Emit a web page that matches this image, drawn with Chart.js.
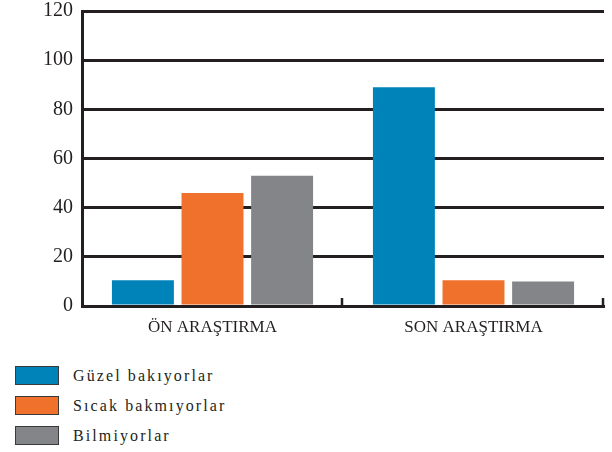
<!DOCTYPE html>
<html>
<head>
<meta charset="utf-8">
<script src="https://cdn.jsdelivr.net/npm/chart.js@4"></script>
<style>
  body { margin: 0; background: #fff; }
  #wrap { position: absolute; left: 0; top: 0; width: 612px; height: 347px; }
  #legend { position: absolute; left: 15px; top: 366px; font-family: "Liberation Serif", serif; font-size: 16px; color: #231f20; letter-spacing: 2.1px; }
  .item { height: 30px; display: flex; align-items: flex-start; }
  .box { width: 42px; height: 17px; border: 1px solid #3a3a3a; margin-right: 14px; }
  .item span { line-height: 19px; }
</style>
</head>
<body>
<div id="wrap"><canvas id="myChart"></canvas></div>
<div id="legend"></div>
<script>
const categories = ["ÖN ARAŞTIRMA", "SON ARAŞTIRMA"];
const seriesNames = ["Güzel bakıyorlar", "Sıcak bakmıyorlar", "Bilmiyorlar"];
const guzel = [10.5, 89];
const sicak = [46, 10.5];
const bilmiyor = [53, 10];
const colors = ["#0083b9", "#f0712c", "#848589"];
const yTicks = [0, 20, 40, 60, 80, 100, 120];

const ink = "#231f20";

// small upward tick marks at category boundaries on the x axis
const boundaryTicks = {
  id: "boundaryTicks",
  afterDraw(chart) {
    const ctx = chart.ctx;
    const area = chart.chartArea;
    const n = categories.length;
    const step = (area.right - area.left) / n;
    ctx.save();
    ctx.strokeStyle = ink;
    ctx.lineWidth = 2.5;
    for (let i = 1; i <= n; i++) {
      const x = area.left + i * step - 1;
      ctx.beginPath();
      ctx.moveTo(x, area.bottom);
      ctx.lineTo(x, area.bottom - 8);
      ctx.stroke();
    }
    ctx.restore();
  }
};

const chart = new Chart(document.getElementById("myChart"), {
  type: "bar",
  data: {
    labels: categories,
    datasets: [
      { label: seriesNames[0], data: guzel, backgroundColor: colors[0] },
      { label: seriesNames[1], data: sicak, backgroundColor: colors[1] },
      { label: seriesNames[2], data: bilmiyor, backgroundColor: colors[2] }
    ]
  },
  options: {
    responsive: true,
    maintainAspectRatio: false,
    animation: false,
    categoryPercentage: 0.8,
    barPercentage: 0.89,
    layout: { padding: { top: 11, right: 8, left: 0, bottom: 0 } },
    plugins: { legend: { display: false }, tooltip: { enabled: false } },
    scales: {
      x: {
        grid: { display: false },
        border: { display: true, color: ink, width: 3 },
        ticks: { color: ink, padding: 3, font: { family: "Liberation Serif", size: 17 } },
        afterFit(scale) { scale.height = 41; }
      },
      y: {
        min: 0,
        max: 120,
        afterBuildTicks(scale) { scale.ticks = yTicks.map(v => ({ value: v })); },
        grid: { color: ink, lineWidth: 3, drawTicks: false },
        border: { display: true, color: ink, width: 3 },
        ticks: { color: ink, padding: 9, font: { family: "Liberation Serif", size: 20 } },
        afterFit(scale) {
          scale.width = 82;
          scale.paddingTop = 0;
          scale.paddingBottom = 0;
        }
      }
    }
  },
  plugins: [boundaryTicks]
});

// vertical legend below the chart
const legend = document.getElementById("legend");
chart.data.datasets.forEach(ds => {
  const row = document.createElement("div");
  row.className = "item";
  row.innerHTML = `<div class="box" style="background:${ds.backgroundColor}"></div><span>${ds.label}</span>`;
  legend.appendChild(row);
});
</script>
</body>
</html>
